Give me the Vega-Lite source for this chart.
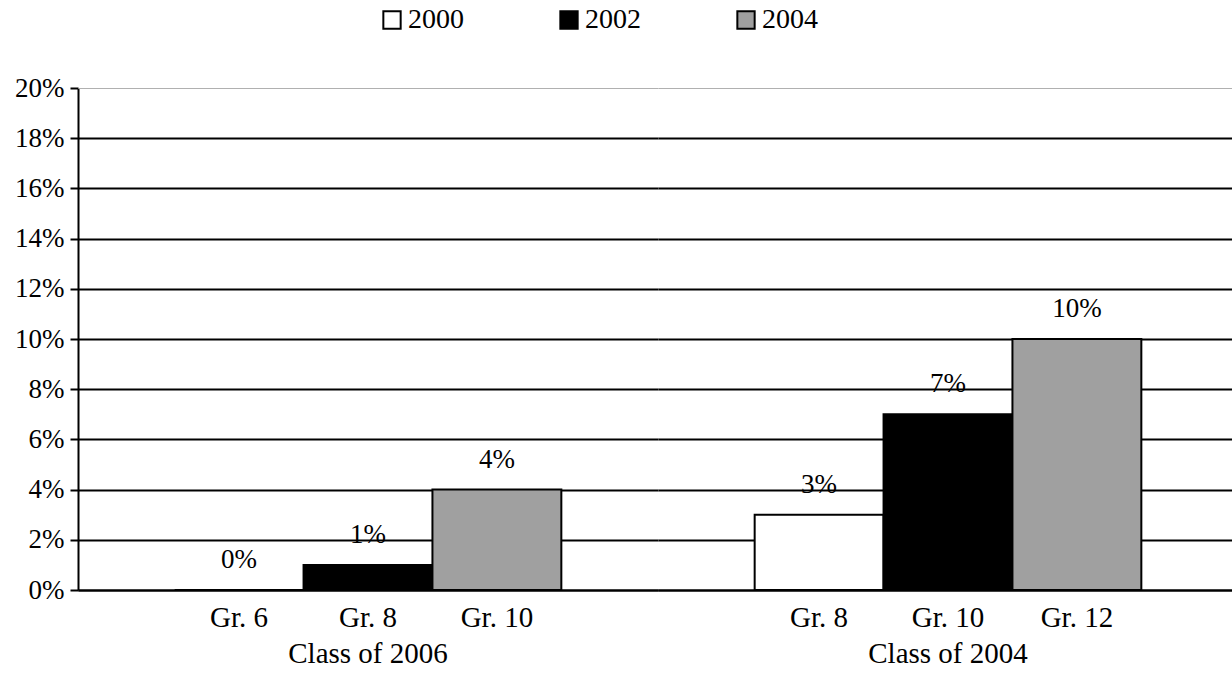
{
  "$schema": "https://vega.github.io/schema/vega-lite/v6.json",
  "background": "white",
  "padding": {"left": 14, "top": 6, "right": 0, "bottom": 0},
  "data": {"values": [
    {"cls": "Class of 2006", "grade": "Gr. 6", "gradeNum": 6, "year": "2000", "pct": 0.0},
    {"cls": "Class of 2006", "grade": "Gr. 8", "gradeNum": 8, "year": "2002", "pct": 0.01},
    {"cls": "Class of 2006", "grade": "Gr. 10", "gradeNum": 10, "year": "2004", "pct": 0.04},
    {"cls": "Class of 2004", "grade": "Gr. 8", "gradeNum": 8, "year": "2000", "pct": 0.03},
    {"cls": "Class of 2004", "grade": "Gr. 10", "gradeNum": 10, "year": "2002", "pct": 0.07},
    {"cls": "Class of 2004", "grade": "Gr. 12", "gradeNum": 12, "year": "2004", "pct": 0.10}
  ]},
  "facet": {
    "column": {
      "field": "cls", "type": "nominal", "sort": ["Class of 2006", "Class of 2004"],
      "header": {"title": null, "labelOrient": "bottom", "labelFont": "Liberation Serif", "labelFontSize": 29, "labelColor": "black", "labelPadding": 8}
    }
  },
  "spacing": 0,
  "spec": {
    "width": 580,
    "height": 502,
    "encoding": {
      "x": {"field": "grade", "type": "nominal", "sort": {"field": "gradeNum"},
        "scale": {"paddingInner": 0, "paddingOuter": 0.75},
        "axis": {"title": null, "labelAngle": 0, "ticks": false, "labelPadding": 13, "domainWidth": 2, "domainColor": "black", "labelFontSize": 29}},
      "y": {"field": "pct", "type": "quantitative",
        "scale": {"domain": [0, 0.2], "nice": false},
        "axis": {"title": null, "format": ".0%", "values": [0, 0.02, 0.04, 0.06, 0.08, 0.1, 0.12, 0.14, 0.16, 0.18, 0.2], "grid": true,
          "gridColor": {"condition": {"test": "datum.value >= 0.199", "value": "#b0b0b0"}, "value": "black"},
          "gridWidth": {"condition": {"test": "datum.value >= 0.199", "value": 1}, "value": 2},
          "gridOpacity": 1, "tickSize": 8, "tickWidth": 2, "tickColor": "black", "domainWidth": 2, "domainColor": "black", "labelPadding": 6, "labelFontSize": 27}}
    },
    "layer": [
      {"mark": {"type": "bar", "stroke": "black", "strokeWidth": 2, "width": {"band": 1}},
        "encoding": {"color": {"field": "year", "type": "nominal",
          "scale": {"domain": ["2000", "2002", "2004"], "range": ["white", "black", "#a0a0a0"]},
          "legend": {"title": null, "orient": "none", "direction": "horizontal", "legendX": 300, "legendY": -82, "symbolType": "square", "symbolSize": 300, "symbolStrokeColor": "black", "symbolStrokeWidth": 2, "symbolOpacity": 1, "labelFontSize": 28, "labelFont": "Liberation Serif", "labelColor": "black", "columnPadding": 91, "labelOffset": 2, "labelLimit": 300}}}},
      {"mark": {"type": "text", "baseline": "alphabetic", "dy": -22, "font": "Liberation Serif", "fontSize": 27, "color": "black"},
        "encoding": {"text": {"field": "pct", "type": "quantitative", "format": ".0%"}}}
    ]
  },
  "resolve": {"scale": {"x": "independent"}},
  "config": {
    "view": {"stroke": null},
    "axis": {"labelFont": "Liberation Serif", "labelColor": "black", "domainColor": "black"}
  }
}
